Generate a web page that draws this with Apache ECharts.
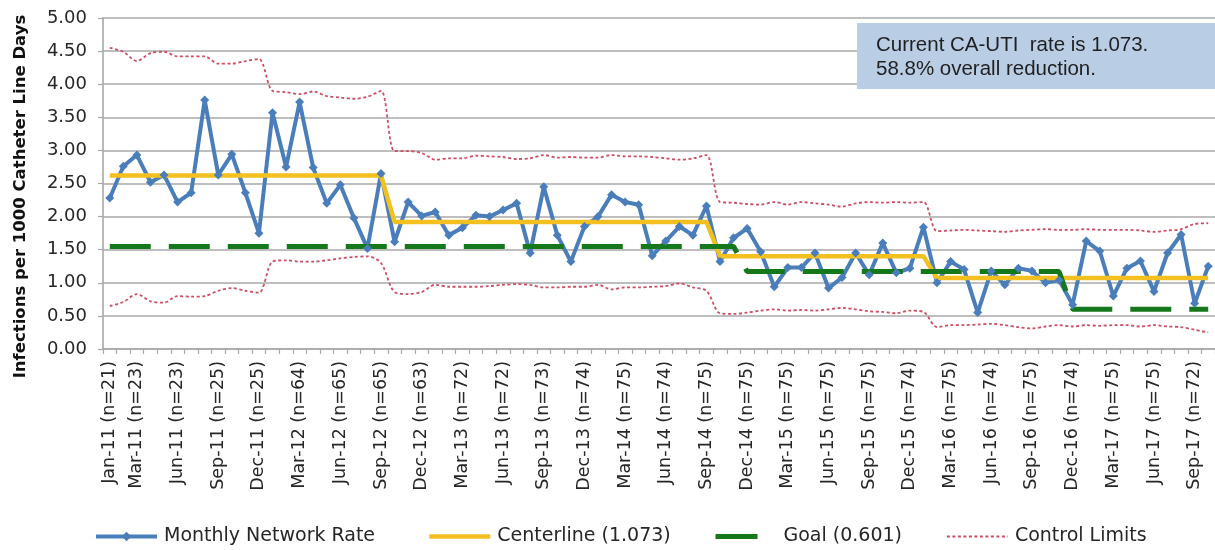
<!DOCTYPE html>
<html><head><meta charset="utf-8">
<script src="https://cdn.jsdelivr.net/npm/echarts@6/dist/echarts.min.js"></script>
<style>html,body{margin:0;padding:0;background:#fff}#c{width:1215px;height:550px}</style>
</head><body><div id="c"></div>
<script>
const categories = [
 'Jan-11 (n=21)','Feb-11','Mar-11 (n=23)','Apr-11','May-11','Jun-11 (n=23)','Jul-11','Aug-11','Sep-11 (n=25)','Oct-11','Nov-11','Dec-11 (n=25)',
 'Jan-12','Feb-12','Mar-12 (n=64)','Apr-12','May-12','Jun-12 (n=65)','Jul-12','Aug-12','Sep-12 (n=65)','Oct-12','Nov-12','Dec-12 (n=63)',
 'Jan-13','Feb-13','Mar-13 (n=72)','Apr-13','May-13','Jun-13 (n=72)','Jul-13','Aug-13','Sep-13 (n=73)','Oct-13','Nov-13','Dec-13 (n=74)',
 'Jan-14','Feb-14','Mar-14 (n=75)','Apr-14','May-14','Jun-14 (n=74)','Jul-14','Aug-14','Sep-14 (n=75)','Oct-14','Nov-14','Dec-14 (n=75)',
 'Jan-15','Feb-15','Mar-15 (n=75)','Apr-15','May-15','Jun-15 (n=75)','Jul-15','Aug-15','Sep-15 (n=75)','Oct-15','Nov-15','Dec-15 (n=74)',
 'Jan-16','Feb-16','Mar-16 (n=75)','Apr-16','May-16','Jun-16 (n=74)','Jul-16','Aug-16','Sep-16 (n=75)','Oct-16','Nov-16','Dec-16 (n=74)',
 'Jan-17','Feb-17','Mar-17 (n=75)','Apr-17','May-17','Jun-17 (n=75)','Jul-17','Aug-17','Sep-17 (n=72)','Oct-17'
];
const monthlyRate = [
 2.28,2.76,2.93,2.52,2.63,2.22,2.36,3.76,2.63,2.94,2.36,1.75,
 3.57,2.75,3.73,2.74,2.20,2.48,1.98,1.52,2.65,1.62,2.22,2.01,
 2.07,1.72,1.83,2.02,2.00,2.10,2.20,1.45,2.45,1.72,1.32,1.85,
 2.00,2.33,2.22,2.18,1.41,1.63,1.85,1.72,2.16,1.32,1.68,1.82,
 1.47,0.94,1.23,1.23,1.45,0.92,1.08,1.45,1.12,1.60,1.15,1.22,
 1.84,1.00,1.32,1.20,0.55,1.18,0.97,1.22,1.18,1.00,1.04,0.67,
 1.63,1.48,0.80,1.22,1.33,0.87,1.45,1.73,0.69,1.25
];
const centerline = [
 2.62,2.62,2.62,2.62,2.62,2.62,2.62,2.62,2.62,2.62,2.62,2.62,
 2.62,2.62,2.62,2.62,2.62,2.62,2.62,2.62,2.62,1.92,1.92,1.92,
 1.92,1.92,1.92,1.92,1.92,1.92,1.92,1.92,1.92,1.92,1.92,1.92,
 1.92,1.92,1.92,1.92,1.92,1.92,1.92,1.92,1.92,1.40,1.40,1.40,
 1.40,1.40,1.40,1.40,1.40,1.40,1.40,1.40,1.40,1.40,1.40,1.40,
 1.40,1.073,1.073,1.073,1.073,1.073,1.073,1.073,1.073,1.073,1.073,1.073,
 1.073,1.073,1.073,1.073,1.073,1.073,1.073,1.073,1.073,1.073
];
const goal = [
 1.55,1.55,1.55,1.55,1.55,1.55,1.55,1.55,1.55,1.55,1.55,1.55,
 1.55,1.55,1.55,1.55,1.55,1.55,1.55,1.55,1.55,1.55,1.55,1.55,
 1.55,1.55,1.55,1.55,1.55,1.55,1.55,1.55,1.55,1.55,1.55,1.55,
 1.55,1.55,1.55,1.55,1.55,1.55,1.55,1.55,1.55,1.55,1.55,1.17,
 1.17,1.17,1.17,1.17,1.17,1.17,1.17,1.17,1.17,1.17,1.17,1.17,
 1.17,1.17,1.17,1.17,1.17,1.17,1.17,1.17,1.17,1.17,1.17,0.601,
 0.601,0.601,0.601,0.601,0.601,0.601,0.601,0.601,0.601,0.601
];
const upperLimit = [
 4.55,4.49,4.35,4.47,4.49,4.42,4.42,4.42,4.31,4.31,4.35,4.38,
 3.90,3.88,3.85,3.89,3.82,3.80,3.78,3.81,3.90,2.99,2.99,2.96,
 2.86,2.88,2.88,2.92,2.91,2.90,2.87,2.88,2.93,2.89,2.90,2.89,
 2.89,2.93,2.91,2.91,2.90,2.88,2.86,2.88,2.93,2.22,2.21,2.19,
 2.18,2.22,2.18,2.22,2.20,2.18,2.15,2.20,2.22,2.21,2.22,2.21,
 2.22,1.78,1.79,1.80,1.79,1.78,1.77,1.79,1.80,1.81,1.80,1.80,
 1.81,1.80,1.80,1.80,1.79,1.77,1.79,1.81,1.89,1.90
];
const lowerLimit = [
 0.65,0.71,0.83,0.72,0.70,0.80,0.79,0.80,0.88,0.92,0.88,0.85,
 1.32,1.34,1.32,1.32,1.34,1.37,1.39,1.40,1.30,0.86,0.83,0.86,
 0.97,0.94,0.94,0.94,0.95,0.97,0.98,0.97,0.93,0.93,0.94,0.94,
 0.97,0.90,0.93,0.93,0.94,0.95,0.99,0.93,0.88,0.54,0.53,0.55,
 0.58,0.60,0.58,0.59,0.58,0.60,0.62,0.60,0.57,0.56,0.54,0.58,
 0.56,0.33,0.36,0.36,0.37,0.38,0.36,0.33,0.31,0.34,0.36,0.34,
 0.36,0.35,0.36,0.36,0.34,0.36,0.34,0.33,0.29,0.25
];
const yAxisTitle = 'Infections per 1000 Catheter Line Days';
const noteLines = ['Current CA-UTI  rate is 1.073.', '58.8% overall reduction.'];
const legendNames = ['Monthly Network Rate', 'Centerline (1.073)', 'Goal (0.601)', 'Control Limits'];

const chart = echarts.init(document.getElementById('c'), null, {renderer: 'canvas'});
const font = 'DejaVu Sans';
const txt = '#262626';
const gridColor = '#a8a8a8';
const limitColor = '#cc4f63';
const blue = '#4a7ebb', gold = '#f4c020', green = '#15781a';
function legendAt(name, left, extra) {
  return Object.assign({
    data: [name], left: left, top: 527, itemWidth: 61, itemHeight: 12, itemGap: 0,
    padding: 0,
    textStyle: {fontFamily: font, fontSize: 19, color: txt, padding: [0, 0, 0, 2]}
  }, extra || {});
}
const hideSym = {opacity: 0, color: 'rgba(0,0,0,0)', borderWidth: 0};
chart.setOption({
  animation: false,
  backgroundColor: '#ffffff',
  grid: {left: 103, right: -3, top: 18, bottom: 201, containLabel: false},
  legend: [
    legendAt(legendNames[0], 94, {lineStyle: {width: 4}}),
    legendAt(legendNames[1], 427, {itemStyle: hideSym, lineStyle: {width: 4.5}}),
    legendAt(legendNames[2], 713, {itemStyle: hideSym, lineStyle: {width: 5, type: [42, 40]}}),
    legendAt(legendNames[3], 946, {itemStyle: hideSym, lineStyle: {width: 1.8}})
  ],
  xAxis: {
    type: 'category', data: categories, boundaryGap: true,
    axisLine: {show: true, lineStyle: {color: gridColor, width: 1.6}},
    axisTick: {show: true, interval: 0, length: 5, lineStyle: {color: gridColor, width: 1.2}},
    axisLabel: {
      rotate: 90, margin: 12, fontFamily: font, fontSize: 17.5, color: txt,
      interval: function (i) { return i === 0 || (i - 2) % 3 === 0; }
    },
    splitLine: {show: false}
  },
  yAxis: {
    type: 'value', min: 0, max: 5, interval: 0.5,
    name: yAxisTitle, nameLocation: 'middle', nameGap: 74, nameRotate: 90,
    nameTextStyle: {fontFamily: font, fontWeight: 'bold', fontSize: 16.5, color: '#111', padding: [0, 26, 0, 0]},
    axisLine: {show: true, lineStyle: {color: gridColor, width: 1.6}},
    axisTick: {show: true, length: 5, lineStyle: {color: gridColor, width: 1.2}},
    axisLabel: {
      margin: 16, fontFamily: font, fontSize: 18, color: txt,
      formatter: function (v) { return v.toFixed(2); }
    },
    splitLine: {show: true, lineStyle: {color: gridColor, width: 1.6}}
  },
  series: [
    {
      name: legendNames[0], type: 'line', data: monthlyRate,
      symbol: 'diamond', symbolSize: 9, showSymbol: true,
      lineStyle: {color: blue, width: 4},
      itemStyle: {color: blue}
    },
    {
      name: legendNames[1], type: 'line', data: centerline, symbol: 'none',
      lineStyle: {color: gold, width: 4.5}, itemStyle: {color: gold}
    },
    {
      name: legendNames[2], type: 'line', data: goal, symbol: 'none',
      lineStyle: {color: green, width: 5, type: [41, 18]}, itemStyle: {color: green}
    },
    {
      name: legendNames[3], type: 'line', data: upperLimit, symbol: 'none', smooth: 0.3,
      lineStyle: {color: limitColor, width: 1.8, type: [3, 2.5]}, itemStyle: {color: limitColor}
    },
    {
      name: legendNames[3], type: 'line', data: lowerLimit, symbol: 'none', smooth: 0.3,
      lineStyle: {color: limitColor, width: 1.8, type: [3, 2.5]}, itemStyle: {color: limitColor}
    }
  ],
  graphic: [
    {type: 'rect', left: 857, top: 23, shape: {width: 362, height: 66}, style: {fill: '#b9cde5'}, z: 10},
    {type: 'text', left: 876, top: 33, z: 11,
     style: {text: noteLines.join('\n'), fontFamily: 'Liberation Sans', fontSize: 20.5, lineHeight: 24, fill: '#1f1f1f'}}
  ]
});
</script>
</body></html>
